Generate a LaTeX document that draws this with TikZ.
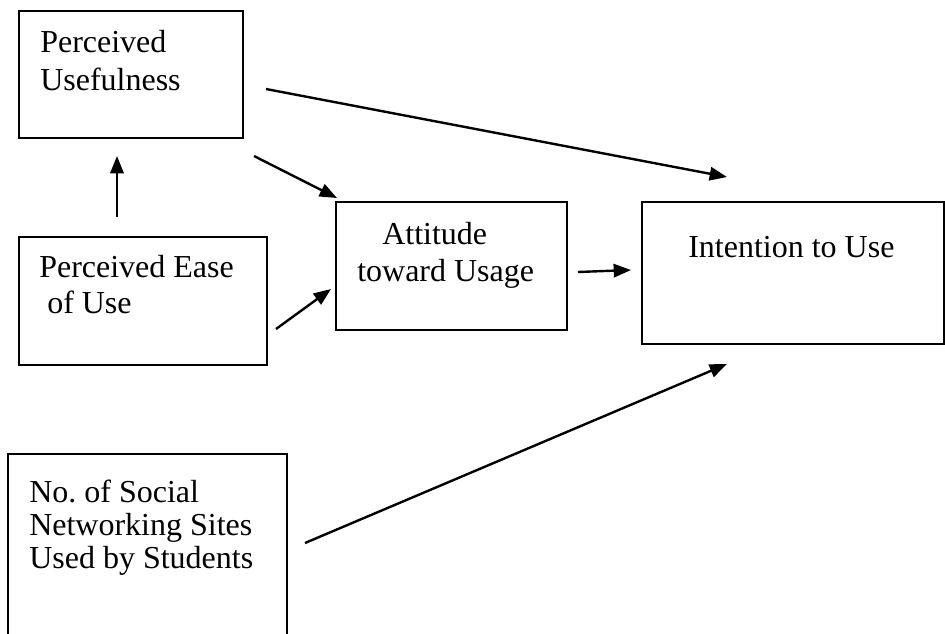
\documentclass[tikz,border=0pt]{standalone}
\usepackage{fontspec}
\setmainfont{Liberation Serif}
\usetikzlibrary{arrows.meta}
\begin{document}
\begin{tikzpicture}[x=0.75pt,y=-0.75pt,
  box/.style={draw,line width=1pt},
  lbl/.style={anchor=base west,inner sep=0pt,align=left},
  arr/.style={line width=1.8pt,-{Triangle[length=13pt,width=10pt]}}]
\useasboundingbox (0,0) rectangle (945,633);
\clip (0,0) rectangle (945,633);
% boxes
\draw[box] (19,11) rectangle (243,138);
\node[lbl,font=\fontsize{24}{28.5}\selectfont] (pu) at (40,90) {Perceived\\Usefulness};
\draw[box] (19,237) rectangle (267,365);
\node[lbl,font=\fontsize{24}{27}\selectfont] (peou) at (39,313) {Perceived Ease\\\hspace*{6pt}of Use};
\draw[box] (336,202) rectangle (567,330);
\node[lbl,font=\fontsize{24}{27.75}\selectfont] (atu) at (357,281) {\hspace*{18.75pt}Attitude\\toward Usage};
\draw[box] (642,202) rectangle (944,344);
\node[lbl,font=\fontsize{24}{28}\selectfont] (itu) at (688,257) {Intention to Use};
\draw[box] (8,454) rectangle (287,650);
\node[lbl,font=\fontsize{24}{24.4}\selectfont] (nsns) at (29,568) {No.\ of Social\\Networking Sites\\Used by Students};
% arrow end points
\coordinate (a1s) at (266,89);  \coordinate (a1e) at (727,177);
\coordinate (a2s) at (117,217); \coordinate (a2e) at (117,156);
\coordinate (a3s) at (254,156); \coordinate (a3e) at (337,198);
\coordinate (a4s) at (276,329); \coordinate (a4e) at (331,289);
\coordinate (a5s) at (578,272); \coordinate (a5e) at (631,270);
\coordinate (a6s) at (305,543); \coordinate (a6e) at (727,364);
\draw[arr] (a1s) -- (a1e);
\draw[arr] (a2s) -- (a2e);
\draw[arr] (a3s) -- (a3e);
\draw[arr] (a4s) -- (a4e);
\draw[arr] (a5s) -- (a5e);
\draw[arr] (a6s) -- (a6e);
\end{tikzpicture}
\end{document}
